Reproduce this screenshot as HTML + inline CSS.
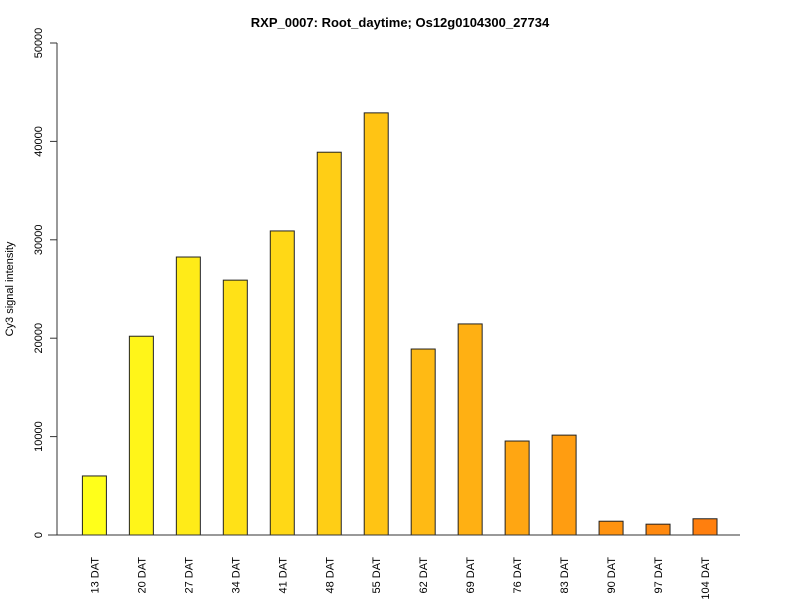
<!DOCTYPE html>
<html><head><meta charset="utf-8"><style>body{margin:0;background:#fff}svg{display:block;font-family:"Liberation Sans",Arial,sans-serif}</style></head>
<body>
<svg id="chart" width="800" height="600">
<text x="400" y="27" text-anchor="middle" font-size="13" font-weight="bold">RXP_0007: Root_daytime; Os12g0104300_27734</text>
<text transform="translate(13,289) rotate(-90)" text-anchor="middle" font-size="11">Cy3 signal intensity</text>
<g id="bars"></g><g id="yaxis"></g><g id="xlabels"></g>
<line x1="48" y1="535" x2="740" y2="535" stroke="#333"/>
</svg>
<script>
const categories=["13 DAT","20 DAT","27 DAT","34 DAT","41 DAT","48 DAT","55 DAT","62 DAT","69 DAT","76 DAT","83 DAT","90 DAT","97 DAT","104 DAT"];
const values=[6000,20200,28250,25900,30900,38900,42900,18900,21450,9550,10150,1400,1100,1650];
const yTicks=[0,10000,20000,30000,40000,50000];
const NS="http://www.w3.org/2000/svg";
const y=v=>535-v*(492/50000);
const x=i=>82.4+i*46.97;
const bw=24;
function mk(t,a,p){const e=document.createElementNS(NS,t);for(const k in a)e.setAttribute(k,a[k]);p.appendChild(e);return e;}
const bars=document.getElementById('bars'),ya=document.getElementById('yaxis'),xl=document.getElementById('xlabels');
values.forEach((v,i)=>{
 const f=i/(values.length-1);
 const g=Math.round(255-128*f),b=Math.round(26-12*f);
 const r=mk('rect',{x:x(i),y:y(v),width:bw,height:535-y(v),fill:`rgb(255,${g},${b})`,stroke:'#222','stroke-width':1},bars);
 
 
 const t=mk('text',{transform:`translate(${x(i)+bw/2+4},557) rotate(-90)`,'text-anchor':'end','font-size':11},xl);
 t.textContent=categories[i];
 
 
});
const al=mk('line',{x1:57,y1:y(0),x2:57,y2:y(50000),stroke:'#333'},ya);


yTicks.forEach(v=>{
 const l=mk('line',{x1:50,y1:y(v),x2:57,y2:y(v),stroke:'#333'},ya);
 
 
 const t=mk('text',{transform:`translate(42,${y(v)}) rotate(-90)`,'text-anchor':'middle','font-size':11},ya);
 t.textContent=v;
 
 
});
</script>
</body></html>
